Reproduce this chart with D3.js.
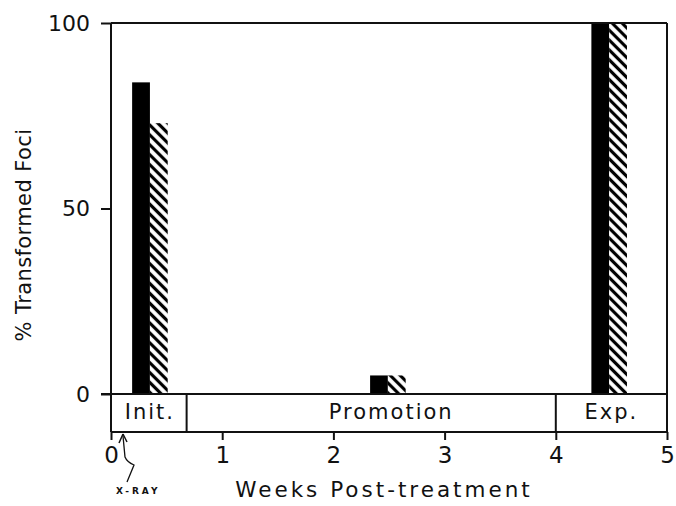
<!DOCTYPE html>
<html>
<head>
<meta charset="utf-8">
<script src="https://cdn.jsdelivr.net/npm/d3@7"></script>
<style>
  html, body { margin: 0; padding: 0; background: #fff; }
  svg { display: block; }
  text { font-family: "DejaVu Sans", "Liberation Sans", Arial, sans-serif; fill: #111; }
</style>
</head>
<body>
<svg id="chart" width="676" height="506"></svg>
<script>
// Group centres (weeks post-treatment) and % transformed foci per treatment
const groupWeeks = [0.35, 2.49, 4.48];
const solidValues = [84, 5, 100];
const hatchedValues = [73, 5, 100];

// Protocol phases shown in the band under the baseline
const phaseNames = ["Init.", "Promotion", "Exp."];
const phaseStarts = [0, 0.68, 4];
const phaseEnds = [0.68, 4, 5];
const phaseLabelWeeks = [0.35, 2.52, 4.5];

const xTicks = [0, 1, 2, 3, 4, 5];
const yTicks = [0, 50, 100];

const svg = d3.select("#chart");
const plotLeft = 111, plotRight = 667, plotTop = 23, zeroY = 394, bandBottom = 432;
const barW = 0.16; // weeks
const font = "DejaVu Sans, Liberation Sans, Arial, sans-serif";

const x = d3.scaleLinear().domain([0, 5]).range([plotLeft, plotRight]);
const y = d3.scaleLinear().domain([0, 100]).range([zeroY, plotTop]);

// Diagonal hatching
const defs = svg.append("defs");
const pat = defs.append("pattern")
  .attr("id", "hatch")
  .attr("patternUnits", "userSpaceOnUse")
  .attr("width", 7).attr("height", 7)
  .attr("patternTransform", "rotate(45)");
pat.append("rect").attr("width", 7).attr("height", 7).attr("fill", "#fff");
pat.append("line")
  .attr("x1", 0).attr("y1", 3.5).attr("x2", 7).attr("y2", 3.5)
  .attr("stroke", "#000").attr("stroke-width", 3.2);

const ink = "#111";

// Bars
svg.append("g").selectAll("rect")
  .data(groupWeeks)
  .join("rect")
  .attr("x", d => x(d - barW))
  .attr("width", d => x(d) - x(d - barW))
  .attr("y", (d, i) => y(solidValues[i]))
  .attr("height", (d, i) => y(0) - y(solidValues[i]))
  .attr("fill", "#000");

svg.append("g").selectAll("rect")
  .data(groupWeeks)
  .join("rect")
  .attr("x", d => x(d))
  .attr("width", d => x(d + barW) - x(d))
  .attr("y", (d, i) => y(hatchedValues[i]))
  .attr("height", (d, i) => y(0) - y(hatchedValues[i]))
  .attr("fill", "url(#hatch)");

// Frame
const frame = svg.append("g").attr("stroke", ink).attr("stroke-width", 2).attr("fill", "none");
frame.append("line").attr("x1", plotLeft).attr("x2", plotRight).attr("y1", plotTop).attr("y2", plotTop);
frame.append("line").attr("x1", plotLeft).attr("x2", plotLeft).attr("y1", plotTop).attr("y2", bandBottom);
frame.append("line").attr("x1", plotRight).attr("x2", plotRight).attr("y1", plotTop).attr("y2", bandBottom);
frame.append("line").attr("x1", plotLeft - 10).attr("x2", plotRight).attr("y1", zeroY).attr("y2", zeroY);
frame.append("line").attr("x1", plotLeft).attr("x2", plotRight).attr("y1", bandBottom).attr("y2", bandBottom);

// Phase band dividers and labels
frame.selectAll("line.div")
  .data(phaseEnds.slice(0, -1))
  .join("line")
  .attr("class", "div")
  .attr("x1", d => x(d)).attr("x2", d => x(d))
  .attr("y1", zeroY).attr("y2", bandBottom);

svg.append("g").selectAll("text")
  .data(phaseNames)
  .join("text")
  .attr("x", (d, i) => x(phaseLabelWeeks[i]))
  .attr("y", 419)
  .attr("text-anchor", "middle")
  .attr("font-size", 21)
  .attr("letter-spacing", 2)
  .text(d => d);

// Y axis
const yAxis = svg.append("g")
  .attr("transform", `translate(${plotLeft},0)`)
  .call(d3.axisLeft(y).tickValues(yTicks).tickSize(10).tickPadding(11).tickFormat(d3.format("d")));
yAxis.select(".domain").remove();
yAxis.selectAll("line").attr("stroke", ink).attr("stroke-width", 2);
yAxis.selectAll("text").attr("font-size", 22).attr("fill", ink).attr("font-family", font);

// X axis
const xAxis = svg.append("g")
  .attr("transform", `translate(0,${bandBottom})`)
  .call(d3.axisBottom(x).tickValues(xTicks).tickSize(8).tickPadding(7).tickFormat(d3.format("d")));
xAxis.select(".domain").remove();
xAxis.selectAll("line").attr("stroke", ink).attr("stroke-width", 2);
xAxis.selectAll("text").attr("font-size", 23).attr("fill", ink).attr("font-family", font);

// Axis titles
svg.append("text")
  .attr("x", 384).attr("y", 497)
  .attr("text-anchor", "middle")
  .attr("font-size", 21.5)
  .attr("letter-spacing", 3)
  .text("Weeks Post-treatment");

svg.append("text")
  .attr("transform", "translate(31,235) rotate(-90)")
  .attr("text-anchor", "middle")
  .attr("font-size", 21)
  .attr("letter-spacing", 0.4)
  .text("% Transformed Foci");

// X-RAY marker at time zero
svg.append("path")
  .attr("d", "M123,436 L125,457 Q127,462 134,465 L127,482")
  .attr("fill", "none").attr("stroke", ink).attr("stroke-width", 1.3);
svg.append("path")
  .attr("d", "M123,434 L119,443 M123,434 L127,442")
  .attr("fill", "none").attr("stroke", ink).attr("stroke-width", 1.5);
svg.append("text")
  .attr("x", 116).attr("y", 494)
  .attr("font-size", 9)
  .attr("font-weight", "bold")
  .attr("letter-spacing", 3)
  .text("X-RAY");
</script>
</body>
</html>
